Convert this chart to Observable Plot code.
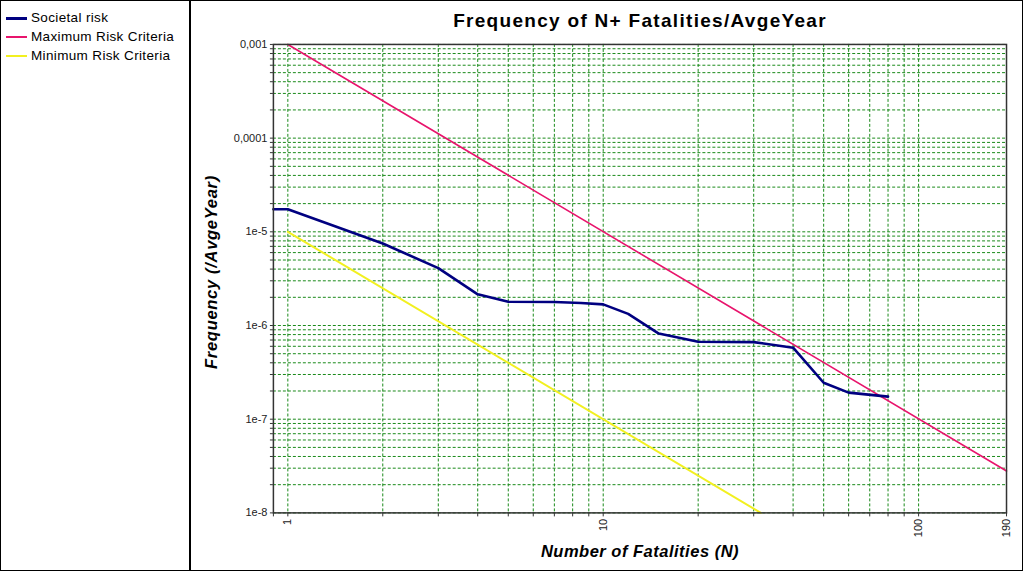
<!DOCTYPE html>
<html>
<head>
<meta charset="utf-8">
<script src="https://cdn.jsdelivr.net/npm/d3@7"></script>
<script src="https://cdn.jsdelivr.net/npm/@observablehq/plot@0.6"></script>
<style>
  html, body { margin: 0; padding: 0; background: white; }
  #wrap { position: relative; width: 1023px; height: 571px; box-sizing: border-box; border: 1px solid #000; background: #fff; font-family: "Liberation Sans", Arial, sans-serif; overflow: hidden; }
  #legend { position: absolute; left: 0; top: 0; width: 190px; height: 569px; border-right: 2px solid #000; box-sizing: border-box; }
  .item { position: absolute; left: 5px; height: 18px; font-size: 13.5px; letter-spacing: 0.35px; color: #000; white-space: nowrap; }
  .sw { position: absolute; left: 0; width: 21px; }
  .item span { position: absolute; left: 25px; top: 0; line-height: 18px; }
  #chart { position: absolute; left: 191px; top: 0; }
  #title { position: absolute; left: 191px; width: 896px; top: 9px; text-align: center; font-weight: bold; font-size: 19px; letter-spacing: 1.3px; color: #000; }
  #ylab { position: absolute; left: 210px; top: 271px; transform: translate(-50%, -50%) rotate(-90deg); font-weight: bold; font-style: italic; font-size: 16.5px; letter-spacing: 0.7px; white-space: nowrap; }
  #xlab { position: absolute; left: 639px; top: 541px; transform: translateX(-50%); font-weight: bold; font-style: italic; font-size: 16.5px; letter-spacing: 0.5px; white-space: nowrap; }
</style>
</head>
<body>
<div id="wrap">
  <div id="legend"></div>
  <div id="chart"></div>
  <div id="title">Frequency of N+ Fatalities/AvgeYear</div>
  <div id="ylab">Frequency (/AvgeYear)</div>
  <div id="xlab">Number of Fatalities (N)</div>
</div>
<script>
// ---- data ----
const seriesNames = ["Societal risk", "Maximum Risk Criteria", "Minimum Risk Criteria"];
const seriesColors = ["#000080", "#e8146c", "#f2f020"];

const societalN = [0.9, 1, 2, 3, 4, 5, 7, 8.5, 10, 12, 15, 20, 30, 40, 50, 60, 80];
const societalF = [1.74e-5, 1.74e-5, 7.5e-6, 4.1e-6, 2.15e-6, 1.79e-6, 1.78e-6, 1.74e-6, 1.68e-6, 1.33e-6, 8.2e-7, 6.7e-7, 6.65e-7, 5.8e-7, 2.45e-7, 1.92e-7, 1.74e-7];

const maxN = [1, 190];
const maxF = [1e-3, 2.8e-8];

const minN = [1, 31.6];
const minF = [1e-5, 1e-8];

const xTickValues = [1, 10, 100, 190];
const xTickLabels = ["1", "10", "100", "190"];
const yTickValues = [1e-3, 1e-4, 1e-5, 1e-6, 1e-7, 1e-8];
const yTickLabels = ["0,001", "0,0001", "1e-5", "1e-6", "1e-7", "1e-8"];

// ---- grid values (log minor lines) ----
const xGrid = [];
for (const d of [1, 10, 100]) for (let m = 1; m <= 9; m++) { const v = d * m; if (v <= 190) xGrid.push(v); }
const yGrid = [];
for (const d of [1e-8, 1e-7, 1e-6, 1e-5, 1e-4]) for (let m = 1; m <= 9; m++) yGrid.push(d * m);
yGrid.push(1e-3);

const xTicksAll = [0.9, ...xGrid, 190];
const fmtX = v => { const i = xTickValues.findIndex(t => Math.abs(t - v) / t < 1e-9); return i >= 0 ? xTickLabels[i] : ""; };
const fmtY = v => { const i = yTickValues.findIndex(t => Math.abs(t - v) / t < 1e-9); return i >= 0 ? yTickLabels[i] : ""; };

const rows = (ns, fs, name) => ns.map((n, i) => ({n, f: fs[i], name}));
const data = [
  ...rows(maxN, maxF, seriesNames[1]),
  ...rows(minN, minF, seriesNames[2]),
  ...rows(societalN, societalF, seriesNames[0])
];

// ---- legend ----
const legend = document.getElementById("legend");
const widths = [3, 1.6, 1.6];
seriesNames.forEach((s, i) => {
  const it = document.createElement("div");
  it.className = "item";
  it.style.top = (8 + i * 19) + "px";
  const sw = document.createElement("div");
  sw.className = "sw";
  sw.style.background = seriesColors[i];
  sw.style.height = widths[i] + "px";
  sw.style.top = (9 - widths[i] / 2) + "px";
  const t = document.createElement("span");
  t.textContent = s;
  it.appendChild(sw); it.appendChild(t);
  legend.appendChild(it);
});

// ---- chart ----
const gridStyle = {stroke: "#1a8a1a", strokeDasharray: "3,2", strokeWidth: 1};
const chart = Plot.plot({
  width: 831,
  height: 570,
  marginLeft: 81,
  marginRight: 16,
  marginTop: 43,
  marginBottom: 58,
  style: {fontFamily: "Liberation Sans, Arial, sans-serif", fontSize: "11px", background: "white", color: "#222"},
  x: {type: "log", domain: [0.9, 190], axis: null},
  y: {type: "log", domain: [1e-8, 1e-3], axis: null},
  color: {domain: seriesNames, range: seriesColors},
  marks: [
    Plot.ruleX(xGrid, gridStyle),
    Plot.ruleY(yGrid, gridStyle),
    Plot.axisX({ticks: xTicksAll, tickFormat: fmtX, tickSize: 4, tickPadding: 2, tickRotate: -90, textAnchor: "end", label: null, stroke: "#333"}),
    Plot.axisY({ticks: yGrid, tickFormat: fmtY, tickSize: 3, tickPadding: 3, label: null, stroke: "#333"}),
    Plot.line(data.filter(d => d.name === seriesNames[1]), {x: "n", y: "f", stroke: seriesColors[1], strokeWidth: 1.6}),
    Plot.line(data.filter(d => d.name === seriesNames[2]), {x: "n", y: "f", stroke: seriesColors[2], strokeWidth: 2}),
    Plot.line(data.filter(d => d.name === seriesNames[0]), {x: "n", y: "f", stroke: seriesColors[0], strokeWidth: 2.6}),
    Plot.frame({stroke: "#333", strokeWidth: 1.5})
  ]
});
document.getElementById("chart").appendChild(chart);
</script>
</body>
</html>
